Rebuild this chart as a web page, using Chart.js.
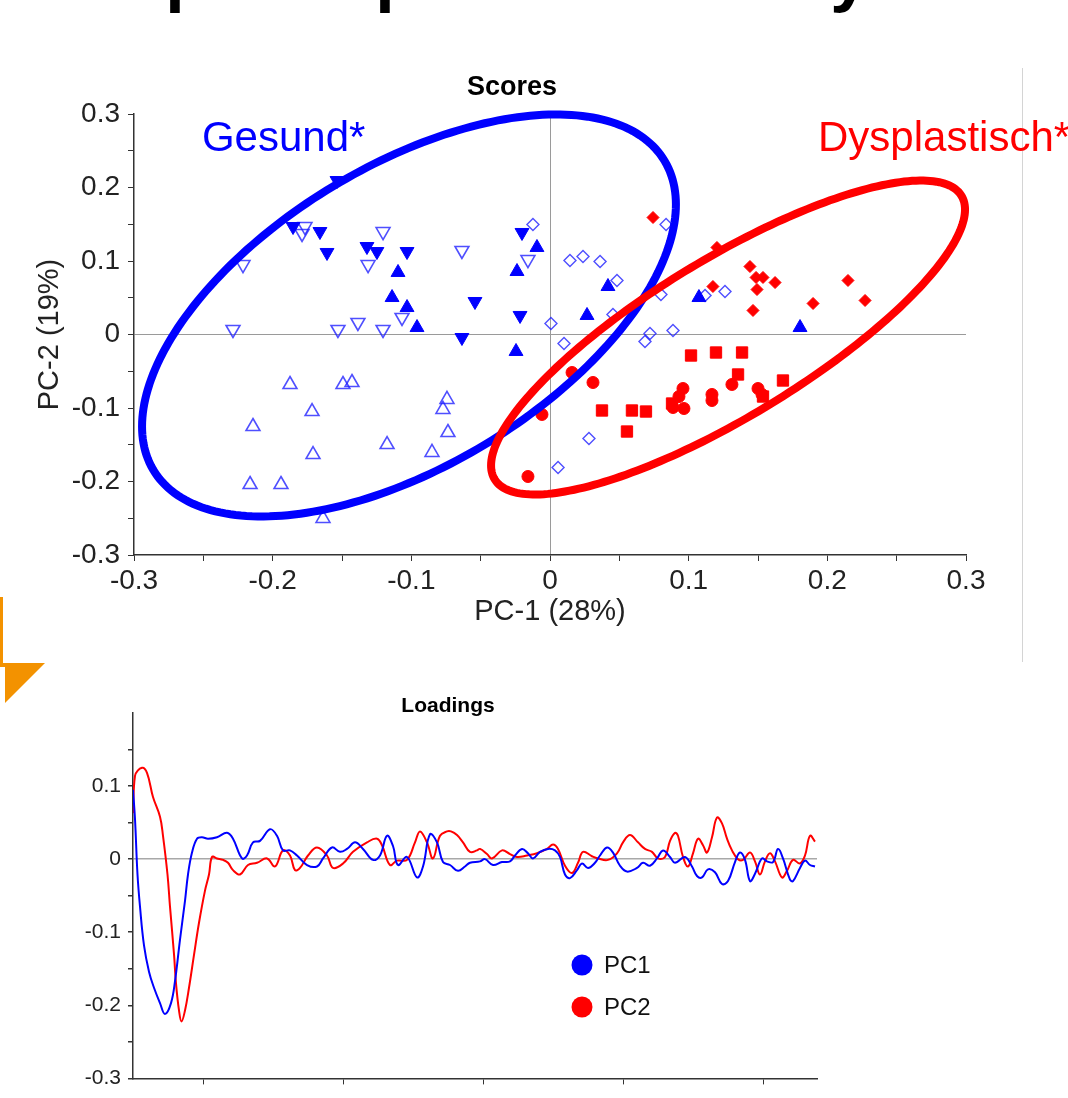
<!DOCTYPE html>
<html>
<head>
<meta charset="utf-8">
<title>Hauptkomponentenanalyse</title>
<script src="https://cdn.jsdelivr.net/npm/chart.js@4.4.1/dist/chart.umd.min.js"></script>
<style>
  html, body { margin: 0; padding: 0; background: #fff; }
  body { width: 1068px; height: 1098px; position: relative; overflow: hidden; font-family: "Liberation Sans", Arial, sans-serif; }
  #headline { position: absolute; left: 33px; top: -61px; font-size: 70px; line-height: 70px; font-weight: bold; white-space: nowrap; color: #000; }
  #divider { position: absolute; left: 1022px; top: 68px; width: 1px; height: 594px; background: #d4d4d4; }
  #scoresBox { position: absolute; left: 0; top: 0; width: 1068px; height: 680px; }
  #loadBox { position: absolute; left: 0; top: 680px; width: 1068px; height: 418px; }
  #arrow { position: absolute; left: 0; top: 597px; }
</style>
</head>
<body>
<div id="headline">Hauptkomponentenanalyse</div>
<div id="divider"></div>
<svg id="arrow" width="50" height="110">
  <rect x="0" y="0" width="3" height="70" fill="#f39200"/>
  <rect x="0" y="66" width="6" height="4" fill="#f39200"/>
  <polygon points="5,66 45,66 5,106" fill="#f39200"/>
</svg>
<div id="scoresBox"><canvas id="scores"></canvas></div>
<div id="loadBox"><canvas id="loadings"></canvas></div>

<script>
// Scores: PC-1 / PC-2
const blueDownFilledX = [-0.1536, -0.1853, -0.1659, -0.1608, -0.1320, -0.1248, -0.1031, -0.0541, -0.0216, -0.0202, -0.0635];
const blueDownFilledY = [0.2095, 0.1469, 0.1401, 0.1116, 0.1197, 0.1129, 0.1129, 0.0449, 0.0259, 0.1388, -0.0041];

const blueUpFilledX = [-0.1096, -0.1139, -0.1031, -0.0959, -0.0238, -0.0094, -0.0245, 0.0267, 0.0418, 0.1074, 0.1803];
const blueUpFilledY = [0.0844, 0.0503, 0.0367, 0.0095, 0.0857, 0.1184, -0.0231, 0.0259, 0.0653, 0.0503, 0.0095];

const blueDownOpenX = [-0.2214, -0.2286, -0.1767, -0.1788, -0.1204, -0.1312, -0.0635, -0.1067, -0.1529, -0.1385, -0.1204, -0.0159];
const blueDownOpenY = [0.0952, 0.0068, 0.1469, 0.1374, 0.1401, 0.0952, 0.1143, 0.0231, 0.0068, 0.0163, 0.0068, 0.1020];

const blueUpOpenX = [-0.1875, -0.1493, -0.1428, -0.1716, -0.2142, -0.1709, -0.1175, -0.0743, -0.0772, -0.0736, -0.0851, -0.2163, -0.1940, -0.1637];
const blueUpOpenY = [-0.0680, -0.0680, -0.0653, -0.1048, -0.1252, -0.1633, -0.1497, -0.0884, -0.1020, -0.1333, -0.1605, -0.2041, -0.2041, -0.2503];

const blueDiamondX = [-0.0123, 0.0144, 0.0238, 0.0361, 0.0483, 0.0454, 0.0007, 0.0101, 0.0800, 0.1118, 0.1262, 0.0721, 0.0685, 0.0887, 0.0281, 0.0058, 0.0837];
const blueDiamondY = [0.1497, 0.1007, 0.1061, 0.0993, 0.0735, 0.0272, 0.0150, -0.0122, 0.0544, 0.0531, 0.0585, 0.0014, -0.0095, 0.0054, -0.1415, -0.1810, 0.1497];

const redDiamondX = [0.0743, 0.1204, 0.1175, 0.1442, 0.1486, 0.1536, 0.1623, 0.1493, 0.1464, 0.1897, 0.2149, 0.2272];
const redDiamondY = [0.1592, 0.1184, 0.0653, 0.0925, 0.0776, 0.0776, 0.0707, 0.0612, 0.0327, 0.0422, 0.0735, 0.0463];

const redSquareX = [0.1017, 0.1197, 0.1385, 0.1356, 0.1680, 0.0375, 0.0591, 0.0692, 0.0555, 0.0880, 0.1536];
const redSquareY = [-0.0286, -0.0245, -0.0245, -0.0544, -0.0626, -0.1034, -0.1034, -0.1048, -0.1320, -0.0939, -0.0844];

const redCircleX = [0.0159, 0.0310, -0.0058, -0.0159, 0.0959, 0.0930, 0.0966, 0.0887, 0.1168, 0.1168, 0.1312, 0.1500, 0.1529];
const redCircleY = [-0.0517, -0.0653, -0.1088, -0.1932, -0.0735, -0.0844, -0.1007, -0.0993, -0.0816, -0.0898, -0.0680, -0.0735, -0.0816];

// Konfidenzellipsen (Zentrum + zwei konjugierte Halbachsen, in PC-Einheiten)
const ellipseNames = ["Gesund*", "Dysplastisch*"];
const ellipseCx = [-0.1017, 0.1284];
const ellipseCy = [0.0259, -0.0041];
const ellipseUx = [0.1925, 0.1709];
const ellipseUy = [0.1510, 0.1741];
const ellipseVx = [0, 0];
const ellipseVy = [-0.228, -0.1237];
const labelX = [-0.251, 0.1933];
const labelY = [0.2503, 0.2503];

const scoreTicks = [-0.3, -0.25, -0.2, -0.15, -0.1, -0.05, 0, 0.05, 0.1, 0.15, 0.2, 0.25, 0.3];

// Loadings
const pc1X = [0, 2, 4.5, 7, 11, 16, 21, 27, 32, 38, 42, 47, 52, 55, 59, 64, 69, 75, 84, 94, 100, 109, 114, 120, 127, 137, 144, 150, 157, 164, 174, 184, 190, 199, 207, 214, 222, 230, 240, 247, 254, 260, 265, 274, 284, 290, 297, 304, 310, 317, 325, 332, 337, 347, 352, 360, 369, 377, 382, 389, 395, 400, 407, 415, 422, 427, 432, 437, 444, 449, 455, 462, 467, 474, 480, 487, 494, 504, 510, 517, 524, 530, 537, 542, 552, 559, 564, 569, 575, 582, 589, 595, 602, 607, 612, 617, 622, 629, 634, 640, 645, 650, 657, 660, 667, 672, 677, 682];
const pc1Y = [0.095, 0.055, -0.021, -0.065, -0.118, -0.154, -0.176, -0.197, -0.212, -0.197, -0.167, -0.11, -0.057, -0.021, 0.009, 0.028, 0.030, 0.028, 0.030, 0.036, 0.028, 0.001, 0.005, 0.023, 0.025, 0.041, 0.032, 0.012, 0.012, 0.005, -0.008, -0.010, 0.001, 0.016, 0.010, 0.014, 0.023, 0.014, -0.001, 0.005, 0.032, 0.018, -0.008, 0.003, -0.025, -0.010, 0.034, 0.023, -0.004, -0.008, -0.016, -0.010, -0.005, -0.003, 0.000, -0.008, -0.004, -0.003, 0.005, 0.014, 0.008, 0.001, 0.010, 0.014, 0.012, 0.003, -0.021, -0.026, -0.015, -0.006, -0.012, -0.005, 0.005, 0.016, 0.009, -0.009, -0.017, -0.012, -0.005, -0.009, 0.001, 0.012, 0.003, -0.005, 0.003, -0.010, -0.023, -0.025, -0.014, -0.018, -0.034, -0.030, -0.004, 0.009, -0.001, -0.030, -0.020, 0.001, -0.003, -0.004, 0.014, 0.001, -0.028, -0.030, -0.012, -0.002, -0.008, -0.010];

const pc2X = [0, 2, 9, 14, 20, 27, 30, 34.5, 37, 41, 43, 46, 48.5, 52, 56, 61, 66, 72, 76, 79, 84, 90, 95, 100, 107, 115, 124, 134, 142, 150, 157, 162, 167, 175, 184, 194, 200, 210, 220, 234, 244, 249, 257, 264, 274, 282, 287, 294, 300, 307, 314, 318, 324, 330, 337, 344, 347, 354, 359, 369, 377, 384, 394, 404, 414, 420, 425, 432, 439, 445, 450, 459, 465, 475, 484, 490, 497, 505, 512, 519, 525, 532, 537, 542, 545, 550, 555, 560, 565, 570, 574, 579, 584, 589, 594, 599, 605, 610, 617, 622, 627, 632, 637, 642, 649, 654, 660, 667, 672, 677, 682];
const pc2Y = [0.063, 0.114, 0.125, 0.118, 0.085, 0.058, 0.032, -0.021, -0.065, -0.13, -0.17, -0.207, -0.222, -0.207, -0.176, -0.131, -0.087, -0.043, -0.021, 0.003, 0.001, -0.001, -0.005, -0.015, -0.021, -0.008, -0.005, 0.001, -0.010, 0.012, 0.005, -0.015, -0.012, 0.005, 0.016, 0.005, -0.012, -0.006, 0.010, 0.023, 0.028, 0.019, -0.008, -0.002, -0.001, 0.023, 0.038, 0.023, 0.001, 0.032, 0.038, 0.038, 0.033, 0.023, 0.010, 0.012, 0.014, 0.007, 0.001, 0.012, 0.007, 0.003, 0.005, 0.008, 0.014, 0.020, 0.014, -0.009, -0.019, -0.005, 0.010, 0.004, 0.001, -0.001, 0.008, 0.023, 0.033, 0.023, 0.014, 0.010, 0.001, 0.003, 0.025, 0.036, 0.032, 0.003, -0.010, 0.008, 0.028, 0.019, 0.009, 0.030, 0.057, 0.049, 0.028, 0.012, 0.000, -0.001, 0.009, -0.003, -0.021, -0.003, 0.008, -0.003, -0.025, -0.016, -0.001, -0.006, 0.005, 0.032, 0.024];

const loadXTicks = [70, 210, 350, 490, 630];
const loadYTicks = [-0.3, -0.25, -0.2, -0.15, -0.1, -0.05, 0, 0.05, 0.1, 0.15];

Chart.defaults.font.family = "'Liberation Sans', Arial, sans-serif";
Chart.defaults.color = "#222";

function toXY(xs, ys) {
  return xs.map((x, i) => ({ x: x, y: ys[i] }));
}

function isTenth(v) {
  return Math.abs(Math.round(v * 10) - v * 10) < 1e-6;
}

function tickLabel(v) {
  return isTenth(v) ? String(Math.round(v * 10) / 10) : "";
}

function zeroGrid(color) {
  return (ctx) => (ctx.tick && Math.abs(ctx.tick.value) < 1e-9 ? color : "rgba(0,0,0,0)");
}

const BLUE = "#0000ff";
const BLUE_OPEN = "rgba(30,30,255,0.78)";
const RED = "#ff0000";
const ellipseColors = [BLUE, RED];

// Ellipsen, Gruppennamen und Titel
const scoresDecor = {
  id: "scoresDecor",
  afterDatasetsDraw(chart) {
    const { ctx, scales: { x, y } } = chart;
    ctx.save();
    for (let k = 0; k < ellipseCx.length; k++) {
      ctx.beginPath();
      for (let i = 0; i <= 240; i++) {
        const t = (i / 240) * Math.PI * 2;
        const vx = ellipseCx[k] + ellipseUx[k] * Math.cos(t) + ellipseVx[k] * Math.sin(t);
        const vy = ellipseCy[k] + ellipseUy[k] * Math.cos(t) + ellipseVy[k] * Math.sin(t);
        const px = x.getPixelForValue(vx);
        const py = y.getPixelForValue(vy);
        if (i === 0) ctx.moveTo(px, py);
        else ctx.lineTo(px, py);
      }
      ctx.closePath();
      ctx.lineWidth = 8;
      ctx.strokeStyle = ellipseColors[k];
      ctx.stroke();

      ctx.fillStyle = ellipseColors[k];
      ctx.font = "42px 'Liberation Sans', Arial, sans-serif";
      ctx.textAlign = "left";
      ctx.textBaseline = "alphabetic";
      ctx.fillText(ellipseNames[k], x.getPixelForValue(labelX[k]), y.getPixelForValue(labelY[k]));
    }
    ctx.fillStyle = "#000";
    ctx.font = "bold 27px 'Liberation Sans', Arial, sans-serif";
    ctx.textAlign = "center";
    ctx.textBaseline = "middle";
    ctx.fillText("Scores", 512, 88);
    ctx.restore();
  }
};

new Chart(document.getElementById("scores"), {
  type: "scatter",
  data: {
    datasets: [
      { label: "gesund ▼", data: toXY(blueDownFilledX, blueDownFilledY), pointStyle: "triangle", rotation: 180, pointRadius: 8, backgroundColor: BLUE, borderColor: BLUE, borderWidth: 1 },
      { label: "gesund ▲", data: toXY(blueUpFilledX, blueUpFilledY), pointStyle: "triangle", pointRadius: 8, backgroundColor: BLUE, borderColor: BLUE, borderWidth: 1 },
      { label: "gesund ▽", data: toXY(blueDownOpenX, blueDownOpenY), pointStyle: "triangle", rotation: 180, pointRadius: 8, backgroundColor: "rgba(0,0,0,0)", borderColor: BLUE_OPEN, borderWidth: 1.6 },
      { label: "gesund △", data: toXY(blueUpOpenX, blueUpOpenY), pointStyle: "triangle", pointRadius: 8, backgroundColor: "rgba(0,0,0,0)", borderColor: BLUE_OPEN, borderWidth: 1.6 },
      { label: "gesund ◇", data: toXY(blueDiamondX, blueDiamondY), pointStyle: "rectRot", pointRadius: 6, backgroundColor: "rgba(0,0,0,0)", borderColor: BLUE_OPEN, borderWidth: 1.4 },
      { label: "dysplastisch ◆", data: toXY(redDiamondX, redDiamondY), pointStyle: "rectRot", pointRadius: 6, backgroundColor: RED, borderColor: RED, borderWidth: 1 },
      { label: "dysplastisch ■", data: toXY(redSquareX, redSquareY), pointStyle: "rect", pointRadius: 8, backgroundColor: RED, borderColor: RED, borderWidth: 1 },
      { label: "dysplastisch ●", data: toXY(redCircleX, redCircleY), pointStyle: "circle", pointRadius: 6, backgroundColor: RED, borderColor: RED, borderWidth: 1 }
    ]
  },
  options: {
    responsive: true,
    maintainAspectRatio: false,
    animation: false,
    layout: { padding: { left: 0, top: 114, right: 102, bottom: 0 } },
    plugins: { legend: { display: false }, tooltip: { enabled: false } },
    scales: {
      x: {
        type: "linear",
        min: -0.3,
        max: 0.3,
        afterBuildTicks: (s) => { s.ticks = scoreTicks.map((v) => ({ value: v })); },
        afterFit: (s) => { s.height = 125; },
        ticks: { autoSkip: false, maxRotation: 0, padding: 3, font: { size: 28 }, color: "#222", callback: tickLabel },
        grid: { color: zeroGrid("#9a9a9a"), lineWidth: 1, tickColor: "#333", tickLength: 6 },
        border: { display: true, color: "#333", width: 1.5 },
        title: { display: true, text: "PC-1 (28%)", font: { size: 29 }, color: "#222", padding: { top: 0, bottom: 51 } }
      },
      y: {
        type: "linear",
        min: -0.3,
        max: 0.3,
        afterBuildTicks: (s) => { s.ticks = scoreTicks.map((v) => ({ value: v })); },
        afterFit: (s) => { s.width = 134; },
        ticks: { autoSkip: false, padding: 8, font: { size: 28 }, color: "#222", callback: tickLabel },
        grid: { color: zeroGrid("#9a9a9a"), lineWidth: 1, tickColor: "#333", tickLength: 6 },
        border: { display: true, color: "#333", width: 1.5 },
        title: { display: true, text: "PC-2 (19%)", font: { size: 29 }, color: "#222", padding: { top: 33, bottom: 0 } }
      }
    }
  },
  plugins: [scoresDecor]
});

// Titel und Legende der Loadings
const loadDecor = {
  id: "loadDecor",
  afterDraw(chart) {
    const { ctx } = chart;
    ctx.save();
    ctx.fillStyle = "#000";
    ctx.font = "bold 21px 'Liberation Sans', Arial, sans-serif";
    ctx.textAlign = "center";
    ctx.textBaseline = "middle";
    ctx.fillText("Loadings", 448, 26);

    ctx.font = "24px 'Liberation Sans', Arial, sans-serif";
    ctx.textAlign = "left";
    chart.data.datasets.forEach((ds, i) => {
      const cy = 285 + i * 42;
      ctx.beginPath();
      ctx.arc(582, cy, 10.5, 0, Math.PI * 2);
      ctx.fillStyle = ds.borderColor;
      ctx.fill();
      ctx.fillStyle = "#111";
      ctx.fillText(ds.label, 604, cy + 1);
    });
    ctx.restore();
  }
};

new Chart(document.getElementById("loadings"), {
  type: "line",
  data: {
    datasets: [
      { label: "PC1", data: toXY(pc1X, pc1Y), borderColor: BLUE, borderWidth: 2, pointRadius: 0, tension: 0.4, fill: false },
      { label: "PC2", data: toXY(pc2X, pc2Y), borderColor: RED, borderWidth: 2, pointRadius: 0, tension: 0.4, fill: false }
    ]
  },
  options: {
    responsive: true,
    maintainAspectRatio: false,
    animation: false,
    layout: { padding: { left: 0, top: 33, right: 251, bottom: 0 } },
    plugins: { legend: { display: false }, tooltip: { enabled: false } },
    scales: {
      x: {
        type: "linear",
        min: 0,
        max: 684,
        afterBuildTicks: (s) => { s.ticks = loadXTicks.map((v) => ({ value: v })); },
        afterFit: (s) => { s.height = 7; },
        ticks: { display: false },
        grid: { color: "rgba(0,0,0,0)", tickColor: "#333", tickLength: 6 },
        border: { display: true, color: "#333", width: 1.5 }
      },
      y: {
        type: "linear",
        min: -0.3,
        max: 0.2,
        afterBuildTicks: (s) => { s.ticks = loadYTicks.map((v) => ({ value: v })); },
        afterFit: (s) => { s.width = 133; },
        ticks: { autoSkip: false, padding: 7, font: { size: 21 }, color: "#222", callback: tickLabel },
        grid: { color: zeroGrid("#a8a8a8"), lineWidth: 1.5, tickColor: "#333", tickLength: 5 },
        border: { display: true, color: "#333", width: 1.5 }
      }
    }
  },
  plugins: [loadDecor]
});
</script>
</body>
</html>
